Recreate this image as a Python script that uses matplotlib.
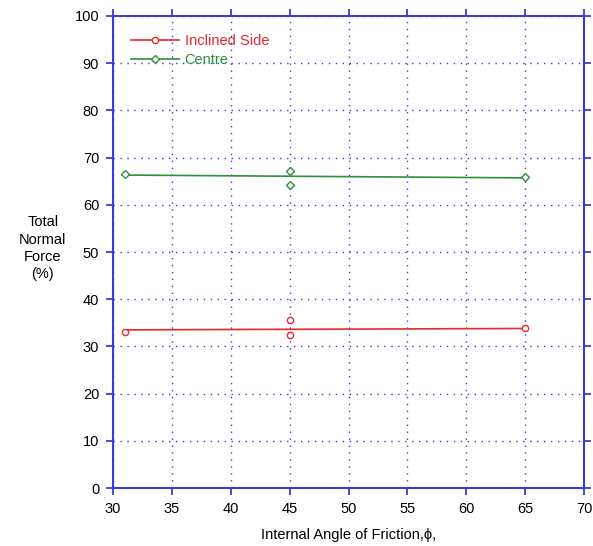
import matplotlib
matplotlib.use("Agg")
import matplotlib.pyplot as plt

# measured points
angle = [31, 45, 45, 65]
inclined_side = [33.1, 35.6, 32.5, 33.9]
centre = [66.5, 67.2, 64.3, 65.8]

# fitted lines (read at the ends)
fit_angle = [31, 65]
inclined_fit = [33.5, 33.8]
centre_fit = [66.3, 65.7]

xticks = list(range(30, 75, 5))
yticks = list(range(0, 110, 10))

plt.rcParams['font.family'] = ['Liberation Sans', 'DejaVu Sans']

red = '#e8282d'
green = '#2f8f3a'
blue = '#3a3ad8'

fig = plt.figure(figsize=(5.93, 5.46), dpi=100)
ax = fig.add_axes([0.1906, 0.1062, 0.7944, 0.8645])

ax.plot(fit_angle, inclined_fit, color=red, linewidth=1.2)
ax.plot(angle, inclined_side, linestyle='none', marker='o', markersize=4.5,
        markerfacecolor='white', markeredgecolor=red, markeredgewidth=1.0)
ax.plot(fit_angle, centre_fit, color=green, linewidth=1.2)
ax.plot(angle, centre, linestyle='none', marker='D', markersize=4.5,
        markerfacecolor='white', markeredgecolor=green, markeredgewidth=1.0)

# legend proxies
ax.plot([], [], color=red, linewidth=1.2, marker='o', markersize=4.5,
        markerfacecolor='white', markeredgecolor=red, label='Inclined Side')
ax.plot([], [], color=green, linewidth=1.2, marker='D', markersize=4.5,
        markerfacecolor='white', markeredgecolor=green, label='Centre')

ax.set_xlim(30, 70)
ax.set_ylim(0, 100)
ax.set_xticks(xticks)
ax.set_yticks(yticks)
ax.grid(True, color=blue, linestyle=(0, (1, 4)), linewidth=1.0)

for s in ax.spines.values():
    s.set_color(blue)
    s.set_linewidth(1.5)
ax.tick_params(direction='out', length=5, width=1.3, color=blue,
               top=True, right=True, labelsize=10.5, pad=5)

leg = ax.legend(loc='upper left', frameon=False, fontsize=10.5,
                handlelength=3.3, handletextpad=0.4, labelspacing=0.35,
                borderaxespad=0.0, bbox_to_anchor=(0.025, 0.975))
for t, c in zip(leg.get_texts(), [red, green]):
    t.set_color(c)

ax.set_xlabel('Internal Angle of Friction,\u03d5,', fontsize=10.5, labelpad=9)
fig.text(0.072, 0.545, 'Total\nNormal\nForce\n(%)', ha='center', va='center',
         fontsize=10.5, linespacing=1.3)

fig.savefig('out.png', dpi=100)
